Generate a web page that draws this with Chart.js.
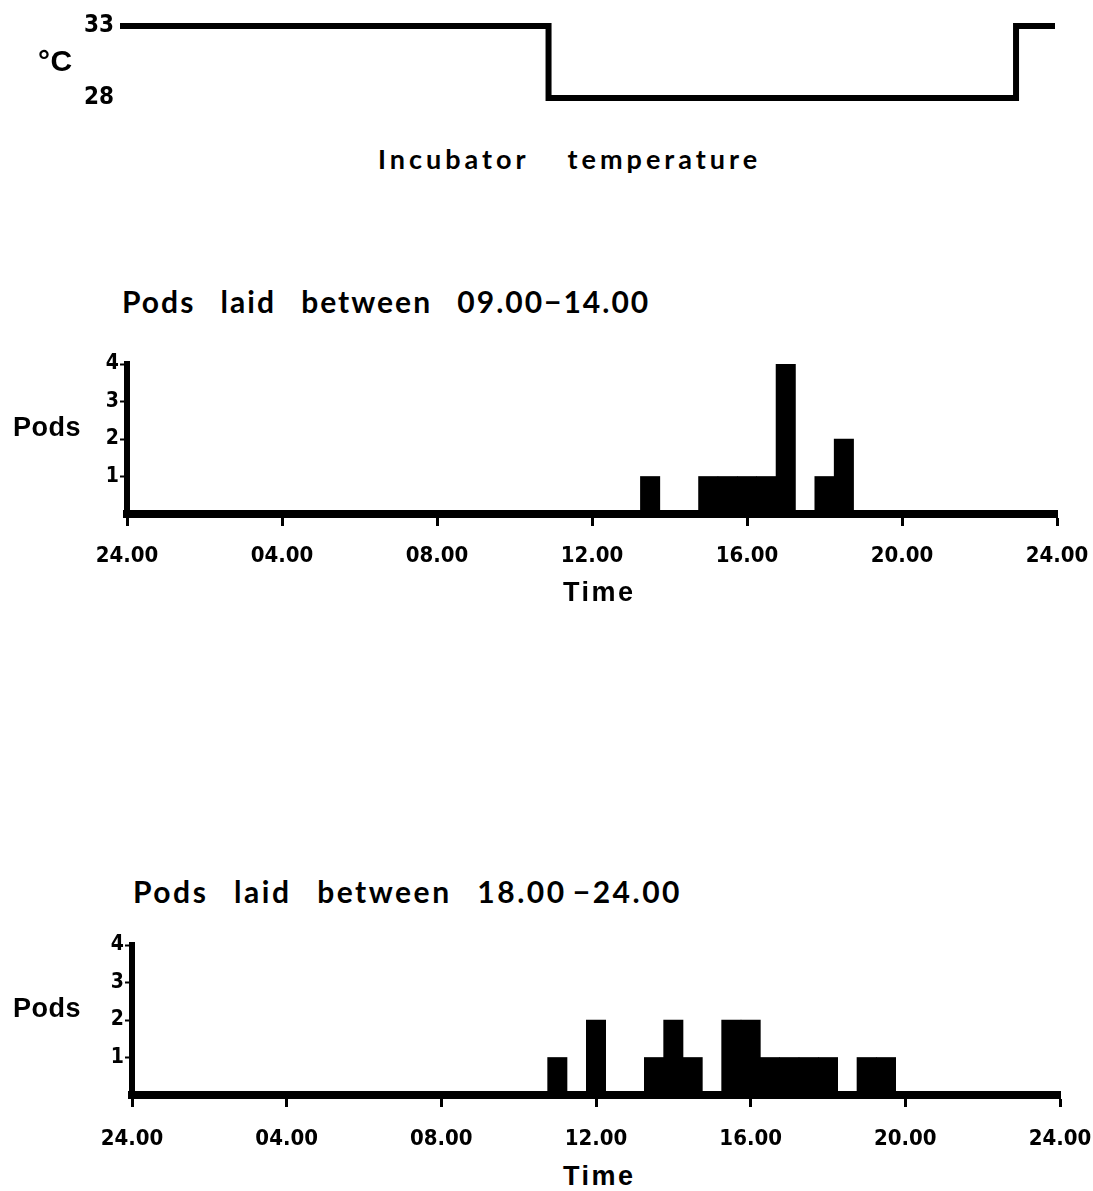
<!DOCTYPE html>
<html>
<head>
<meta charset="utf-8">
<script src="https://cdn.jsdelivr.net/npm/chart.js@4.4.1/dist/chart.umd.min.js"></script>
<style>
  html, body { margin: 0; padding: 0; background: #fff; }
  #page { position: relative; width: 1093px; height: 1191px; overflow: hidden; }
  canvas { position: absolute; left: 0; }
  .lbl { position: absolute; white-space: nowrap; color: #000; line-height: 1; }
  .title { font-family: Lato, "Open Sans", sans-serif; font-weight: 700; font-size: 30px; word-spacing: 16px; letter-spacing: 2px; }
  .axis-name { font-family: "Liberation Sans", Arial, sans-serif; font-weight: 700; font-size: 27px; letter-spacing: 0.5px; }
  .time { letter-spacing: 2.5px; }
</style>
</head>
<body>
<div id="page">
  <canvas id="temp-chart" width="1093" height="130" style="top:0px"></canvas>
  <canvas id="early-chart" width="1093" height="250" style="top:330px"></canvas>
  <canvas id="late-chart" width="1093" height="240" style="top:915px"></canvas>

  <div class="lbl axis-name" style="left:38px; top:46px; font-size:30px;">°C</div>
  <div class="lbl title" style="left:378px; top:145px; font-size:27px; letter-spacing:4px; word-spacing:28px;">Incubator temperature</div>

  <div class="lbl title" style="left:122px; top:286px;">Pods laid between 09.00−14.00</div>
  <div class="lbl axis-name" style="left:13px; top:414px;">Pods</div>
  <div class="lbl axis-name time" style="left:563px; top:579px;">Time</div>

  <div class="lbl title" style="left:133px; top:876px; letter-spacing:2.5px;">Pods laid between 18.00&thinsp;−24.00</div>
  <div class="lbl axis-name" style="left:13px; top:995px;">Pods</div>
  <div class="lbl axis-name time" style="left:563px; top:1163px;">Time</div>
</div>
<script>
// Incubator temperature schedule (hour of day, °C)
const tempHours = [0, 11, 23, 24];
const tempValues = [33, 28, 33, 33];

// Half-hour bins (bin centre, hour of day) and pods counted in each
const earlyBins = [13.5, 15, 15.5, 16, 16.5, 17, 18, 18.5];
const earlyPods = [1, 1, 1, 1, 1, 4, 1, 2];

const lateBins = [11, 12, 13.5, 14, 14.5, 15.5, 16, 16.5, 17, 17.5, 18, 19, 19.5];
const latePods = [1, 2, 1, 2, 1, 2, 2, 1, 1, 1, 1, 1, 1];

// Axis ticks
const hourTicks = [0, 4, 8, 12, 16, 20, 24];
const podTicks = [1, 2, 3, 4];

const tickFamily = '"DejaVu Sans Condensed", "Liberation Sans Narrow", "DejaVu Sans", sans-serif';

// Format hour as 24.00, 04.00 ...
const formatHour = (h) => {
    const hh = (h === 0 || h === 24) ? 24 : h;
    return String(hh).padStart(2, '0') + '.00';
};

const toPoints = (xs, ys) => xs.map((x, i) => ({ x: x, y: ys[i] }));

// Temperature step line
new Chart(document.getElementById('temp-chart'), {
    type: 'line',
    data: {
        datasets: [{
            data: toPoints(tempHours, tempValues),
            stepped: true,
            borderColor: '#000',
            borderWidth: 6,
            pointRadius: 0,
            fill: false,
            clip: false
        }]
    },
    options: {
        responsive: false,
        animation: false,
        layout: { padding: { top: 26, bottom: 32, right: 38, left: 0 } },
        plugins: { legend: { display: false }, tooltip: { enabled: false } },
        scales: {
            x: { type: 'linear', min: 0, max: 24, display: false },
            y: {
                min: 28,
                max: 33,
                afterFit: (scale) => { scale.width = 120; },
                afterBuildTicks: (scale) => { scale.ticks = [{ value: 28 }, { value: 33 }]; },
                grid: { display: false, drawTicks: false, tickLength: 0 },
                border: { display: false },
                ticks: {
                    color: '#000',
                    padding: 6,
                    font: { family: tickFamily, weight: 'bold', size: 24 }
                }
            }
        }
    }
});

// Pods histogram
const makePodsChart = (id, bins, pods, topPad, xHeight, yWidth, rightPad, labelPad) => {
    return new Chart(document.getElementById(id), {
        type: 'bar',
        data: {
            datasets: [{
                data: toPoints(bins, pods),
                backgroundColor: '#000',
                borderWidth: 0,
                barPercentage: 1,
                categoryPercentage: 1
            }]
        },
        options: {
            responsive: false,
            animation: false,
            layout: { padding: { top: topPad, right: rightPad, left: 0, bottom: 0 } },
            plugins: { legend: { display: false }, tooltip: { enabled: false } },
            scales: {
                x: {
                    type: 'linear',
                    min: 0,
                    max: 24,
                    offset: false,
                    afterFit: (scale) => {
                        scale.height = xHeight;
                        // keep the end labels from shrinking the plot
                        scale.paddingLeft = 0;
                        scale.paddingRight = 0;
                    },
                    afterBuildTicks: (scale) => { scale.ticks = hourTicks.map(v => ({ value: v })); },
                    grid: {
                        offset: false,
                        drawOnChartArea: false,
                        drawTicks: true,
                        tickLength: 12,
                        tickWidth: 3,
                        tickColor: '#000'
                    },
                    border: { display: true, color: '#000', width: 8 },
                    ticks: {
                        color: '#000',
                        padding: labelPad,
                        maxRotation: 0,
                        autoSkip: false,
                        callback: (v) => formatHour(v),
                        font: { family: tickFamily, weight: 'bold', size: 22 }
                    }
                },
                y: {
                    min: 0,
                    max: 4,
                    afterFit: (scale) => { scale.width = yWidth; },
                    afterBuildTicks: (scale) => { scale.ticks = podTicks.map(v => ({ value: v })); },
                    grid: {
                        drawOnChartArea: false,
                        drawTicks: true,
                        tickLength: 7,
                        tickWidth: 2,
                        tickColor: '#000'
                    },
                    border: { display: true, color: '#000', width: 6 },
                    ticks: {
                        color: '#000',
                        padding: 1,
                        font: { family: tickFamily, weight: 'bold', size: 21 }
                    }
                }
            }
        }
    });
};

makePodsChart('early-chart', earlyBins, earlyPods, 34, 66, 127, 36, 17);
makePodsChart('late-chart', lateBins, latePods, 30, 60, 132, 33, 19);
</script>
</body>
</html>
